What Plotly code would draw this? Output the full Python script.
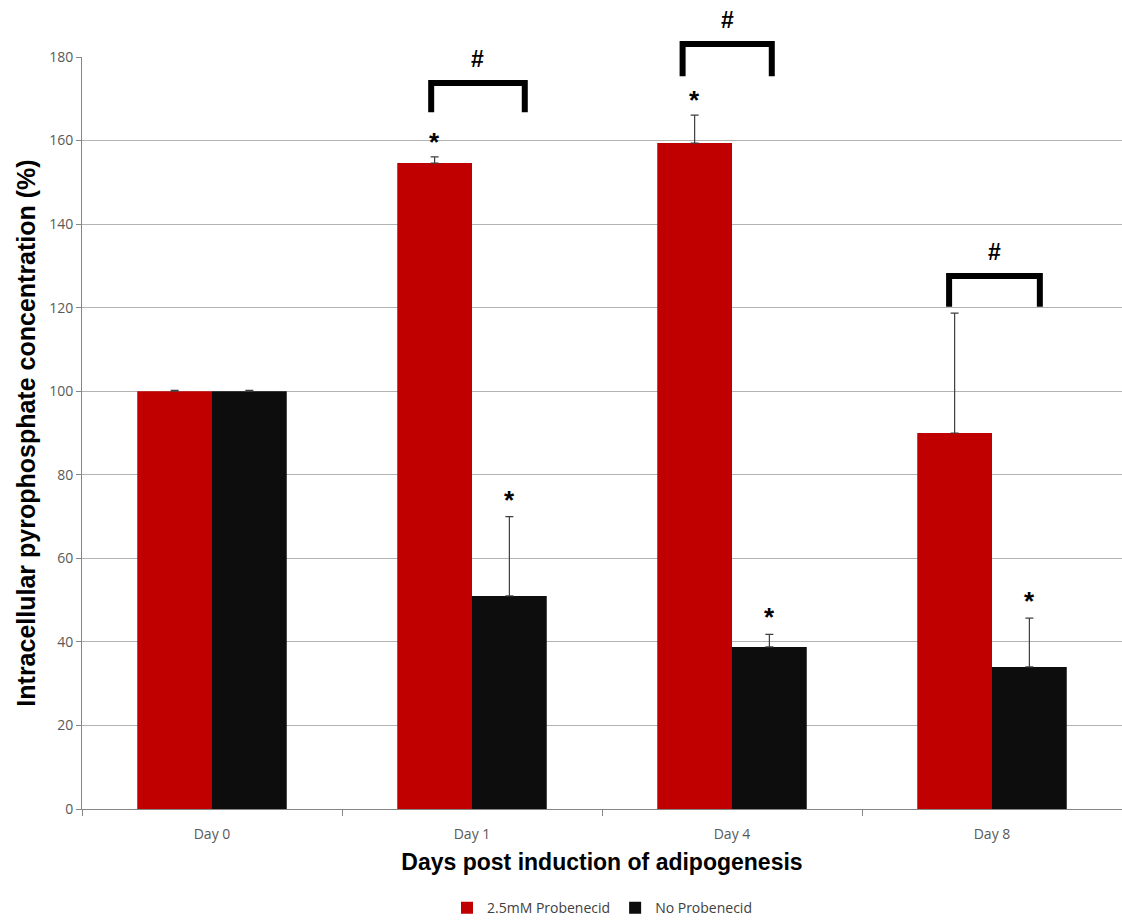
import plotly.graph_objects as go

# Data
days = ["Day 0", "Day 1", "Day 4", "Day 8"]
probenecid = [100, 154.6, 159.4, 90.0]
probenecid_err = [0.2, 1.5, 6.7, 28.7]
no_probenecid = [100, 51.0, 38.8, 34.0]
no_probenecid_err = [0.2, 19.0, 3.0, 11.7]

# significance stars: (category index, height of the error bar top)
star_red = [(1, 156.1), (2, 166.1)]
star_black = [(1, 70.0), (2, 41.8), (3, 45.7)]
# brackets: (category index, left, right, leg bottom, top)
brackets = [(1, -0.157, 0.203, 166.8, 173.8),
            (2, -0.190, 0.153, 175.4, 183.1),
            (3, -0.165, 0.184, 120.2, 127.6)]

YMAX = 180
RED = "#C00000"
BLACK = "#0D0D0D"
ERR = "#3F3F3F"
GRID = "#B3B3B3"
TICKFONT = dict(family="Open Sans, Liberation Sans, sans-serif", size=14, color="#595959")
MARKFONT = dict(family="Liberation Sans", size=26, color="black")

fig = go.Figure()
fig.add_trace(go.Bar(
    name="2.5mM Probenecid", x=days, y=probenecid, marker=dict(color=RED, line=dict(width=0)),
    error_y=dict(type="data", array=probenecid_err, arrayminus=[0] * 4,
                 symmetric=False, color=ERR, thickness=1.2, width=4)))
fig.add_trace(go.Bar(
    name="No Probenecid", x=days, y=no_probenecid, marker=dict(color=BLACK, line=dict(width=0)),
    error_y=dict(type="data", array=no_probenecid_err, arrayminus=[0] * 4,
                 symmetric=False, color=ERR, thickness=1.2, width=4)))

BAR_OFF = 0.144
annots = []
for idx, h in star_red:
    annots.append(dict(x=idx - BAR_OFF, y=h / YMAX, yref="paper", text="<b>*</b>", showarrow=False,
                       yanchor="bottom", yshift=-2, font=MARKFONT))
for idx, h in star_black:
    annots.append(dict(x=idx + BAR_OFF, y=h / YMAX, yref="paper", text="<b>*</b>", showarrow=False,
                       yanchor="bottom", yshift=0, font=MARKFONT))

shapes = []
for idx, l, r, lo, hi in brackets:
    x0, x1 = idx + l, idx + r
    shapes.append(dict(
        type="path", xref="x", yref="paper",
        path=f"M {x0},{lo / YMAX} L {x0},{hi / YMAX} L {x1},{hi / YMAX} L {x1},{lo / YMAX}",
        line=dict(color="black", width=6), layer="above"))
    annots.append(dict(x=(x0 + x1) / 2, y=hi / YMAX, yref="paper", text="<b>#</b>", showarrow=False,
                       yanchor="bottom", yshift=9,
                       font=dict(family="Liberation Sans", size=23, color="black")))

fig.update_layout(
    width=1122, height=920,
    margin=dict(l=82, r=0, t=57, b=111, autoexpand=False),
    paper_bgcolor="white", plot_bgcolor="white",
    barmode="group", bargap=0.425, bargroupgap=0,
    shapes=shapes, annotations=annots,
    showlegend=True,
    legend=dict(orientation="h", x=0.5, xanchor="center", y=-0.132, yanchor="middle",
                font=dict(family="Open Sans, Liberation Sans, sans-serif", size=14, color="#404040"),
                itemwidth=30, tracegroupgap=0),
    font=dict(family="Liberation Sans, Arial, sans-serif"),
)
fig.update_xaxes(
    automargin=False,
    showline=True, linecolor="#868686", linewidth=1,
    ticks="outside", tickson="boundaries", ticklen=6, tickcolor="#868686",
    ticklabelstandoff=12,
    tickfont=TICKFONT, showgrid=False,
    title=dict(text="<b>Days post induction of adipogenesis</b>", standoff=12,
               font=dict(family="Liberation Sans, Arial, sans-serif", size=23, color="black")),
)
fig.update_yaxes(
    automargin=False,
    range=[0, YMAX], dtick=20, showline=True, linecolor="#868686", linewidth=1,
    ticks="outside", ticklen=5, tickcolor="#868686",
    tickfont=TICKFONT, showgrid=True, gridcolor=GRID, gridwidth=1, zeroline=False,
    title=dict(text="<b>Intracellular pyrophosphate concentration (%)</b>", standoff=6,
               font=dict(family="Liberation Sans, Arial, sans-serif", size=25, color="black")),
)

fig.write_html("out.html")
